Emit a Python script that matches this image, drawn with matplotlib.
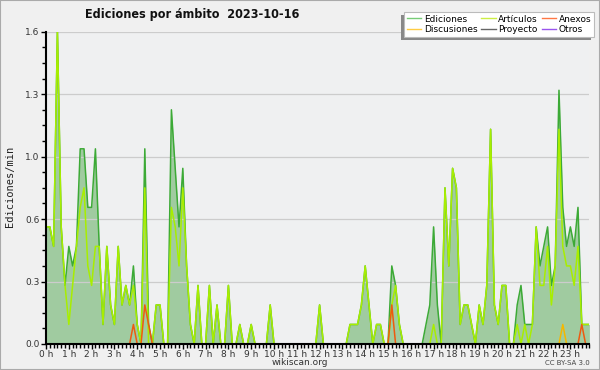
import numpy as np
import matplotlib.pyplot as plt
from matplotlib.lines import Line2D
from matplotlib.patches import Rectangle
from matplotlib.ticker import MultipleLocator, FormatStrFormatter

# edits per minute, one value every 10 minutes (00:00 -> 23:50)
ediciones = [
    0.6, 0.6, 0.5, 1.6, 0.6, 0.3, 0.5, 0.4, 0.5, 1.0, 1.0, 0.7,
    0.7, 1.0, 0.5, 0.1, 0.5, 0.2, 0.1, 0.5, 0.2, 0.3, 0.2, 0.4,
    0.1, 0.0, 1.0, 0.1, 0.0, 0.2, 0.2, 0.0, 0.0, 1.2, 0.9, 0.6,
    0.9, 0.4, 0.1, 0.0, 0.3, 0.0, 0.0, 0.3, 0.0, 0.2, 0.0, 0.0,
    0.3, 0.0, 0.0, 0.1, 0.0, 0.0, 0.1, 0.0, 0.0, 0.0, 0.0, 0.2,
    0.0, 0.0, 0.0, 0.0, 0.0, 0.0, 0.0, 0.0, 0.0, 0.0, 0.0, 0.0,
    0.2, 0.0, 0.0, 0.0, 0.0, 0.0, 0.0, 0.0, 0.1, 0.1, 0.1, 0.2,
    0.4, 0.2, 0.0, 0.1, 0.1, 0.0, 0.0, 0.4, 0.3, 0.1, 0.0, 0.0,
    0.0, 0.0, 0.0, 0.0, 0.1, 0.2, 0.6, 0.2, 0.0, 0.8, 0.4, 0.9,
    0.8, 0.1, 0.2, 0.2, 0.1, 0.0, 0.2, 0.1, 0.3, 1.1, 0.2, 0.1,
    0.3, 0.3, 0.0, 0.0, 0.2, 0.3, 0.1, 0.1, 0.1, 0.6, 0.4, 0.5,
    0.6, 0.3, 0.4, 1.3, 0.7, 0.5, 0.6, 0.5, 0.7, 0.1, 0.1, 0.1,
]
articulos = [
    0.6, 0.6, 0.5, 1.6, 0.6, 0.3, 0.1, 0.3, 0.5, 0.7, 0.8, 0.4,
    0.3, 0.5, 0.5, 0.1, 0.5, 0.2, 0.1, 0.5, 0.2, 0.3, 0.2, 0.3,
    0.1, 0.0, 0.8, 0.0, 0.0, 0.2, 0.2, 0.0, 0.0, 0.7, 0.6, 0.4,
    0.8, 0.4, 0.1, 0.0, 0.3, 0.0, 0.0, 0.3, 0.0, 0.2, 0.0, 0.0,
    0.3, 0.0, 0.0, 0.1, 0.0, 0.0, 0.1, 0.0, 0.0, 0.0, 0.0, 0.2,
    0.0, 0.0, 0.0, 0.0, 0.0, 0.0, 0.0, 0.0, 0.0, 0.0, 0.0, 0.0,
    0.2, 0.0, 0.0, 0.0, 0.0, 0.0, 0.0, 0.0, 0.1, 0.1, 0.1, 0.2,
    0.4, 0.2, 0.0, 0.1, 0.1, 0.0, 0.0, 0.2, 0.3, 0.1, 0.0, 0.0,
    0.0, 0.0, 0.0, 0.0, 0.0, 0.0, 0.1, 0.0, 0.0, 0.8, 0.4, 0.9,
    0.8, 0.1, 0.2, 0.2, 0.1, 0.0, 0.2, 0.1, 0.3, 1.1, 0.2, 0.1,
    0.3, 0.3, 0.0, 0.0, 0.1, 0.0, 0.1, 0.0, 0.1, 0.6, 0.3, 0.3,
    0.5, 0.2, 0.4, 1.1, 0.5, 0.4, 0.4, 0.3, 0.5, 0.1, 0.1, 0.1,
]
# the small series are zero except at a few slots
anexos_slot = [23, 26, 27, 91, 141]
anexos_val = [0.1, 0.2, 0.1, 0.2, 0.1]
discusiones_slot = [136]
discusiones_val = [0.1]

hour_labels = [f"{h} h" for h in range(24)]

n = len(ediciones)
x = np.arange(n)
anexos = np.zeros(n)
anexos[anexos_slot] = anexos_val
discusiones = np.zeros(n)
discusiones[discusiones_slot] = discusiones_val


def visible(values):
    # hide runs of zeros so the lines don't run along the axis
    v = np.asarray(values, dtype=float)
    nb = np.zeros_like(v)
    nb[1:] += v[:-1]
    nb[:-1] += v[1:]
    return np.where((v == 0) & (nb == 0), np.nan, v)


bg = '#eff0f1'
fig = plt.figure(figsize=(6, 3.7), dpi=100, facecolor='#f0f0f0')
ax = fig.add_axes([0.0767, 0.0703, 0.9056, 0.844])
ax.set_facecolor(bg)

ax.fill_between(x, ediciones, 0, color='#a0cba0', lw=0, zorder=1)
ax.plot(x, visible(ediciones), color='#3caa36', lw=1.1, zorder=2)
ax.plot(x, visible(articulos), color='#a8ee00', lw=1.1, zorder=2.1)
ax.plot(x, visible(discusiones), color='#f5b800', lw=1.1, zorder=2.2)
ax.plot(x, visible(anexos), color='#ee5a10', lw=1.1, zorder=2.3)

ax.set_xlim(0, n - 1)
ax.set_ylim(0, 1.6)

# axes look
for s in ['top', 'right']:
    ax.spines[s].set_visible(False)
for s in ['bottom', 'left']:
    ax.spines[s].set_linewidth(1.5)
    ax.spines[s].set_zorder(5)

ax.set_xticks(x[::6])
ax.set_xticklabels(hour_labels)
ax.xaxis.set_minor_locator(MultipleLocator(1))
ax.yaxis.set_major_locator(MultipleLocator(0.32))
ax.yaxis.set_major_formatter(FormatStrFormatter('%.1f'))
ax.yaxis.set_minor_locator(MultipleLocator(0.08))
ax.tick_params(which='both', direction='out', width=1, colors='black',
               labelsize=6.5, labelcolor='#333333')
ax.tick_params(axis='x', which='major', length=3.5, pad=0.5)
ax.tick_params(axis='x', which='minor', length=3)
ax.tick_params(axis='y', which='major', length=3.5, pad=1)
ax.tick_params(axis='y', which='minor', length=3)
ax.yaxis.grid(True, color='#cccccc', lw=0.9)
ax.set_axisbelow('line')

# texts
fig.text(0.1417, 0.962, 'Ediciones por ámbito  2023-10-16', ha='left', va='center',
         fontsize=9, fontweight='bold', fontstretch='condensed', color='#111111')
fig.text(0.0167, 0.497, 'Ediciones/min', rotation=90, ha='center', va='center',
         family='DejaVu Sans Mono', fontsize=7.5, color='#222222')
fig.text(0.5, 0.021, 'wikiscan.org', ha='center', va='center', fontsize=6.5, color='#333333')
fig.text(0.983, 0.019, 'CC BY-SA 3.0', ha='right', va='center', fontsize=5, color='#444444')

# legend (column-wise order gives the 2 x 3 grid)
handles = [
    Line2D([], [], color='#77cc77', lw=1),
    Line2D([], [], color='#ffcc44', lw=1),
    Line2D([], [], color='#ccee44', lw=1),
    Line2D([], [], color='#666666', lw=1),
    Line2D([], [], color='#ff7744', lw=1),
    Line2D([], [], color='#9955ee', lw=1),
]
labels = ['Ediciones', 'Discusiones', 'Artículos', 'Proyecto', 'Anexos', 'Otros']
leg = fig.legend(handles, labels, ncol=3, loc='upper right',
                 bbox_to_anchor=(0.99, 0.968), bbox_transform=fig.transFigure,
                 fontsize=6.5, frameon=True, fancybox=False, framealpha=1,
                 facecolor='white', edgecolor='#bbbbbb', borderpad=0.3,
                 labelspacing=0.15, handlelength=1.6, handletextpad=0.3,
                 columnspacing=0.4, borderaxespad=0)
leg.get_frame().set_linewidth(0.8)
leg.set_zorder(6)

# legend shadow, offset down-left
fig.canvas.draw()
bb = leg.get_window_extent().transformed(fig.transFigure.inverted())
dx, dy = 3.5 / 600, 3.5 / 370
fig.add_artist(Rectangle((bb.x0 - dx, bb.y0 - dy), bb.width, bb.height,
                         transform=fig.transFigure, facecolor='#888888',
                         edgecolor='none', zorder=5.5))

# thin frame round the image
fig.add_artist(Rectangle((0, 0), 1, 1, transform=fig.transFigure, fill=False,
                         edgecolor='#aaaaaa', lw=1.5, zorder=10))

fig.savefig('out.png', dpi=100, facecolor=fig.get_facecolor())
